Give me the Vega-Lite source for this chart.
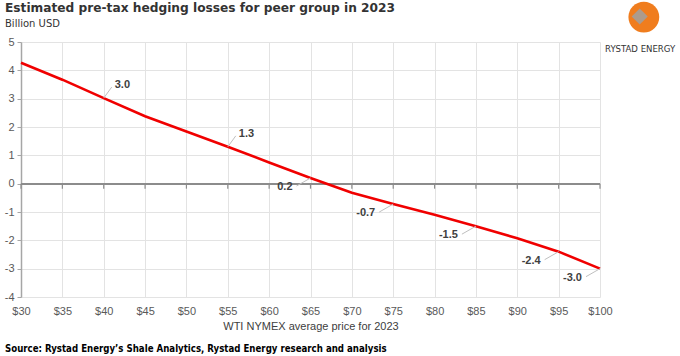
{
  "$schema": "https://vega.github.io/schema/vega-lite/v6.json",
  "autosize": "none",
  "width": 579,
  "height": 255,
  "padding": {"left": 21, "top": 42, "right": 80, "bottom": 59},
  "background": "white",
  "title": {
    "text": "Estimated pre-tax hedging losses for peer group in 2023",
    "subtitle": "Billion USD",
    "anchor": "start",
    "frame": "group",
    "dx": -16,
    "offset": -27,
    "font": "DejaVu Sans",
    "fontSize": 12.2,
    "fontWeight": "bold",
    "color": "#333333",
    "subtitleFont": "DejaVu Sans",
    "subtitleFontSize": 10,
    "subtitleColor": "#333333",
    "subtitlePadding": 4
  },
  "data": {
    "values": [
      {"price": 30, "loss": 4.27},
      {"price": 35, "loss": 3.67},
      {"price": 40, "loss": 3.02},
      {"price": 45, "loss": 2.38},
      {"price": 50, "loss": 1.84},
      {"price": 55, "loss": 1.30},
      {"price": 60, "loss": 0.75},
      {"price": 65, "loss": 0.20},
      {"price": 70, "loss": -0.32},
      {"price": 75, "loss": -0.72},
      {"price": 80, "loss": -1.10},
      {"price": 85, "loss": -1.50},
      {"price": 90, "loss": -1.93},
      {"price": 95, "loss": -2.40},
      {"price": 100, "loss": -3.00}
    ]
  },
  "encoding": {
    "x": {
      "field": "price",
      "type": "quantitative",
      "scale": {"domain": [30, 100], "nice": false, "zero": false},
      "axis": {
        "values": [30, 35, 40, 45, 50, 55, 60, 65, 70, 75, 80, 85, 90, 95, 100],
        "labelExpr": "'$' + datum.value",
        "labelFlush": false,
        "labelOverlap": false,
        "title": "WTI NYMEX average price for 2023",
        "titleFont": "Liberation Sans",
        "titleFontSize": 11,
        "titleFontWeight": "normal",
        "titleColor": "#404040",
        "titlePadding": 4,
        "labelFont": "Liberation Sans",
        "labelFontSize": 11,
        "labelColor": "#595959",
        "labelPadding": 8,
        "domain": false,
        "ticks": false,
        "grid": true,
        "gridColor": "#e3e3e3",
        "gridWidth": 1
      }
    },
    "y": {
      "field": "loss",
      "type": "quantitative",
      "scale": {"domain": [-4, 5], "nice": false, "zero": false},
      "axis": {
        "values": [-4, -3, -2, -1, 0, 1, 2, 3, 4, 5],
        "title": null,
        "labelFont": "Liberation Sans",
        "labelFontSize": 11,
        "labelColor": "#595959",
        "labelPadding": 3,
        "domain": true,
        "domainColor": "#a6a6a6",
        "domainWidth": 1.5,
        "ticks": true,
        "tickColor": "#a6a6a6",
        "tickSize": 4,
        "grid": true,
        "gridColor": "#e3e3e3",
        "gridWidth": 1
      }
    }
  },
  "layer": [
    {
      "mark": {"type": "rule", "color": "#8c8c8c", "strokeWidth": 1.2},
      "encoding": {"y": {"datum": 0, "type": "quantitative"}, "x": null}
    },
    {
      "mark": {"type": "rule", "color": "#8c8c8c", "strokeWidth": 1.2, "y2Offset": 5},
      "encoding": {"y": {"datum": 0, "type": "quantitative"}, "y2": {"datum": 0}}
    },
    {
      "mark": {"type": "line", "color": "#f00000", "strokeWidth": 2.6, "clip": false}
    },
    {
      "transform": [{"filter": {"field": "price", "oneOf": [40, 55]}}],
      "mark": {"type": "rule", "color": "#bfbfbf", "strokeWidth": 1, "x2Offset": 8, "y2Offset": -11},
      "encoding": {"x2": {"field": "price"}, "y2": {"field": "loss"}}
    },
    {
      "transform": [{"filter": {"field": "price", "oneOf": [40, 55]}}],
      "mark": {"type": "text", "align": "left", "baseline": "middle", "dx": 11, "dy": -13, "font": "Liberation Sans", "fontSize": 11, "fontWeight": "bold", "color": "#404040"},
      "encoding": {"text": {"field": "loss", "type": "quantitative", "format": ".1f"}}
    },
    {
      "transform": [{"filter": {"field": "price", "oneOf": [65, 75, 85, 95, 100]}}],
      "mark": {"type": "rule", "color": "#bfbfbf", "strokeWidth": 1, "x2Offset": -14, "y2Offset": 8},
      "encoding": {"x2": {"field": "price"}, "y2": {"field": "loss"}}
    },
    {
      "transform": [{"filter": {"field": "price", "oneOf": [65, 75, 85, 95, 100]}}],
      "mark": {"type": "text", "align": "right", "baseline": "middle", "dx": -18, "dy": 9, "font": "Liberation Sans", "fontSize": 11, "fontWeight": "bold", "color": "#404040"},
      "encoding": {"text": {"field": "loss", "type": "quantitative", "format": ".1f"}}
    },
    {
      "transform": [{"filter": {"field": "price", "equal": 30}}],
      "mark": {"type": "text", "text": "Source: Rystad Energy’s Shale Analytics,  Rystad Energy research and analysis", "align": "left", "baseline": "middle", "font": "DejaVu Sans Condensed", "fontSize": 9.6, "fontWeight": "bold", "color": "#000000", "clip": false},
      "encoding": {"x": {"datum": 28.07, "type": "quantitative"}, "y": {"datum": -5.85, "type": "quantitative"}}
    },
    {
      "transform": [{"filter": {"field": "price", "equal": 30}}],
      "mark": {"type": "point", "filled": true, "color": "#f07d1e", "size": 950, "opacity": 1, "clip": false},
      "encoding": {"x": {"datum": 105.3, "type": "quantitative"}, "y": {"datum": 5.88, "type": "quantitative"}}
    },
    {
      "transform": [{"filter": {"field": "price", "equal": 30}}],
      "mark": {"type": "point", "shape": "diamond", "filled": true, "color": "#a0a0a0", "size": 260, "opacity": 0.85, "clip": false},
      "encoding": {"x": {"datum": 104.8, "type": "quantitative"}, "y": {"datum": 5.9, "type": "quantitative"}}
    },
    {
      "transform": [{"filter": {"field": "price", "equal": 30}}],
      "mark": {"type": "text", "text": "RYSTAD ENERGY", "align": "center", "baseline": "middle", "font": "DejaVu Sans Condensed", "fontSize": 9.5, "color": "#333333", "clip": false},
      "encoding": {"x": {"datum": 104.85, "type": "quantitative"}, "y": {"datum": 4.75, "type": "quantitative"}}
    }
  ],
  "config": {
    "view": {"stroke": null},
    "locale": {"number": {"decimal": ".", "thousands": ",", "grouping": [3], "currency": ["$", ""], "minus": "-"}}
  }
}
